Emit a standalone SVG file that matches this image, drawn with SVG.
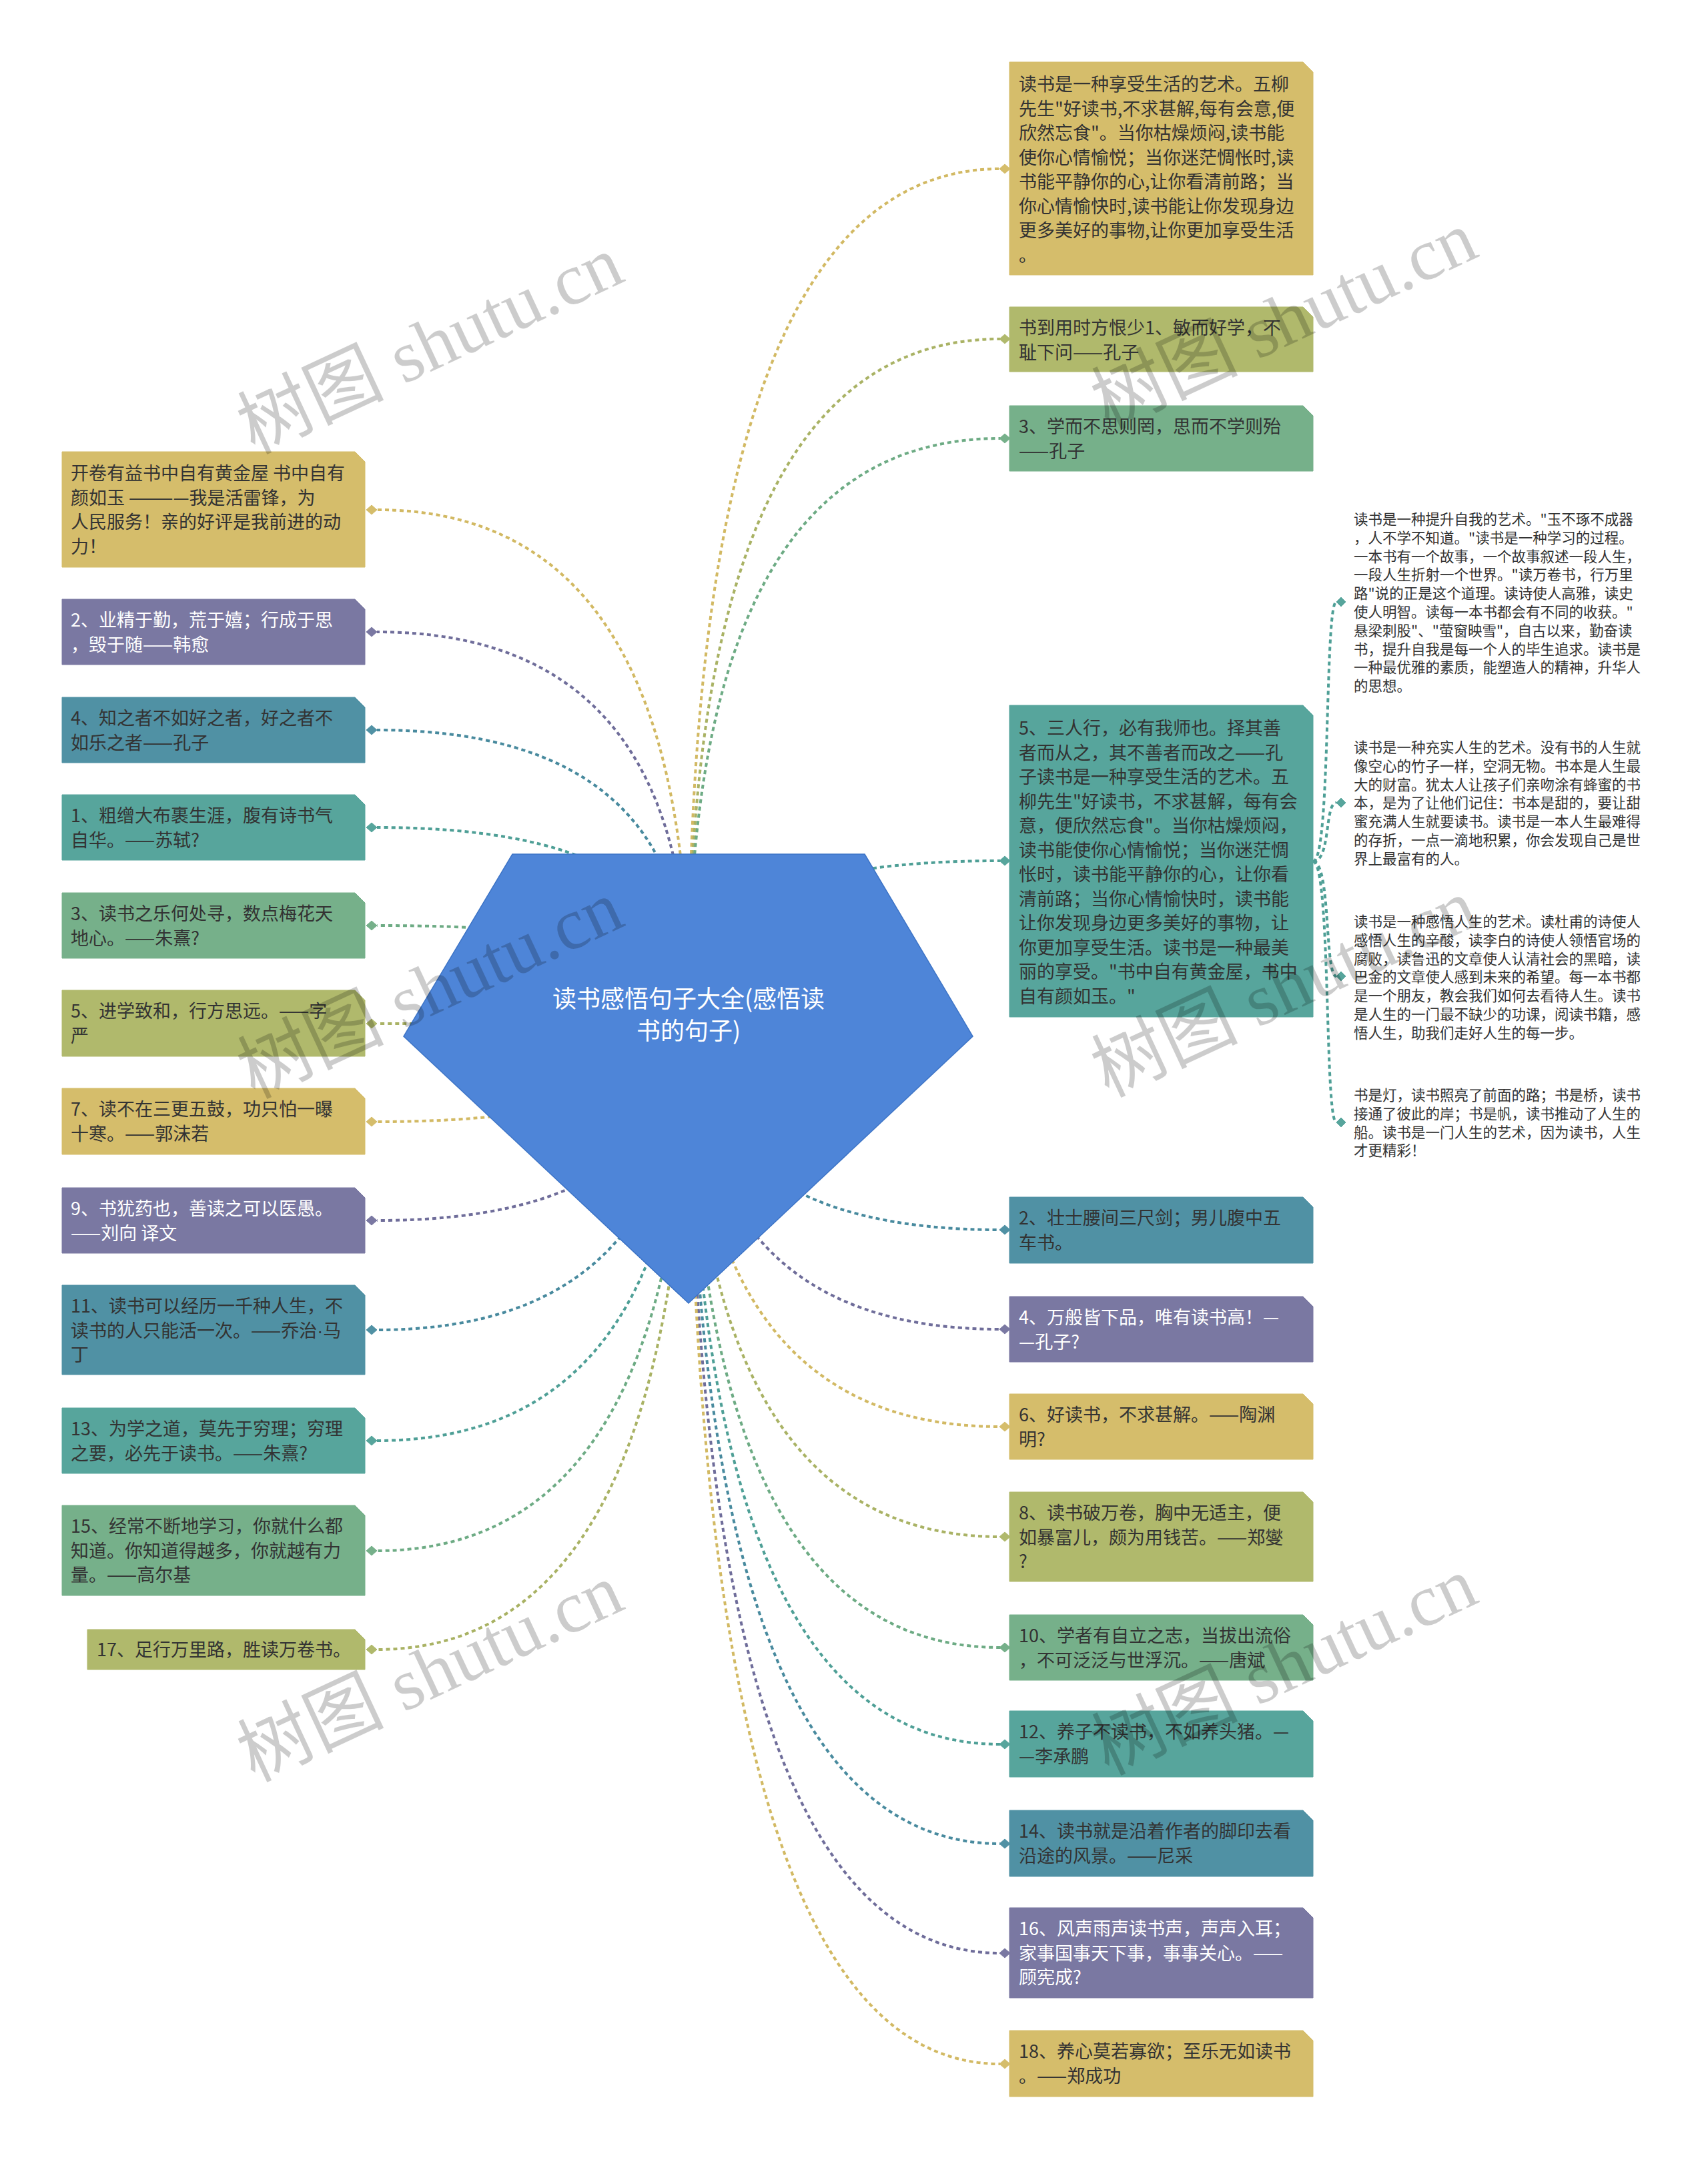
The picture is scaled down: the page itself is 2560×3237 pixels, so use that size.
<svg xmlns="http://www.w3.org/2000/svg" width="2560" height="3237" viewBox="0 0 2560 3237">
<style>
.c{fill:none;stroke-width:4;stroke-dasharray:6 5}
.t{font-family:"Noto Sans CJK SC","Liberation Sans",sans-serif;font-size:27px;fill:#333}
.tw{fill:#fff}
.s{font-family:"Noto Sans CJK SC","Liberation Sans",sans-serif;font-size:21.5px;fill:#333}
.y{fill:#d5bd6b;stroke:#d5bd6b}
.o{fill:#b0b96c;stroke:#b0b96c}
.g{fill:#76b08a;stroke:#76b08a}
.tl{fill:#57a59c;stroke:#57a59c}
.b{fill:#5091a4;stroke:#5091a4}
.p{fill:#7a78a2;stroke:#7a78a2}
.cy{stroke:#d2b963}.co{stroke:#a9b264}.cg{stroke:#6dab84}.ct{stroke:#4e9f96}.cb{stroke:#488a9e}.cp{stroke:#6f6d9a}
.wm{font-family:"Liberation Serif","Noto Sans CJK SC",serif;font-size:110px;fill:#000;fill-opacity:0.2}
</style>
<rect width="2560" height="3237" fill="#fff"/>
<g id="connectors">
<path class="c cy" d="M1032 1500 Q1032 253 1499 253"/>
<path class="c co" d="M1032 1500 Q1032 508 1499 508"/>
<path class="c cg" d="M1032 1500 Q1032 657 1499 657"/>
<path class="c ct" d="M1032 1500 Q1032 1290 1499 1290"/>
<path class="c cb" d="M1032 1500 Q1032 1843 1499 1843"/>
<path class="c cp" d="M1032 1500 Q1032 1992 1499 1992"/>
<path class="c cy" d="M1032 1500 Q1032 2138 1499 2138"/>
<path class="c co" d="M1032 1500 Q1032 2303 1499 2303"/>
<path class="c cg" d="M1032 1500 Q1032 2469 1499 2469"/>
<path class="c ct" d="M1032 1500 Q1032 2614 1499 2614"/>
<path class="c cb" d="M1032 1500 Q1032 2763 1499 2763"/>
<path class="c cp" d="M1032 1500 Q1032 2927 1499 2927"/>
<path class="c cy" d="M1032 1500 Q1032 3093 1499 3093"/>
<path class="c cy" d="M1032 1500 Q1032 764 565 764"/>
<path class="c cp" d="M1032 1500 Q1032 947 565 947"/>
<path class="c cb" d="M1032 1500 Q1032 1094 565 1094"/>
<path class="c ct" d="M1032 1500 Q1032 1240 565 1240"/>
<path class="c cg" d="M1032 1500 Q1032 1387 565 1387"/>
<path class="c co" d="M1032 1500 Q1032 1534 565 1534"/>
<path class="c cy" d="M1032 1500 Q1032 1681 565 1681"/>
<path class="c cp" d="M1032 1500 Q1032 1829 565 1829"/>
<path class="c cb" d="M1032 1500 Q1032 1993 565 1993"/>
<path class="c ct" d="M1032 1500 Q1032 2159 565 2159"/>
<path class="c cg" d="M1032 1500 Q1032 2324 565 2324"/>
<path class="c co" d="M1032 1500 Q1032 2472 565 2472"/>
<path class="c ct" d="M1968 1291 C1995 1291 1985 902 2003 902"/>
<path class="c ct" d="M1968 1291 C1995 1291 1985 1203 2003 1203"/>
<path class="c ct" d="M1968 1291 C1995 1291 1985 1463 2003 1463"/>
<path class="c ct" d="M1968 1291 C1995 1291 1985 1682 2003 1682"/>
</g>
<g id="root">
<polygon points="768,1280 1296,1280 1458,1553 1032,1953 605,1553" fill="#4e85d8" stroke="#3d74c6" stroke-width="1.5"/>
<text font-family="Noto Sans CJK SC, Liberation Sans, sans-serif" font-size="36" fill="#fff" text-anchor="middle"><tspan x="1032" y="1510">读书感悟句子大全(感悟读</tspan><tspan x="1032" y="1558">书的句子)</tspan></text>
</g>
<g id="r1"><polygon class="y" points="1513,93 1953,93 1968,108 1968,412 1513,412"/><polygon class="y" points="1498,253 1506,246 1514,253 1506,260"/>
<text class="t"><tspan x="1527" y="136">读书是一种享受生活的艺术。五柳</tspan><tspan x="1527" dy="36.5">先生"好读书,不求甚解,每有会意,便</tspan><tspan x="1527" dy="36.5">欣然忘食"。当你枯燥烦闷,读书能</tspan><tspan x="1527" dy="36.5">使你心情愉悦；当你迷茫惆怅时,读</tspan><tspan x="1527" dy="36.5">书能平静你的心,让你看清前路；当</tspan><tspan x="1527" dy="36.5">你心情愉快时,读书能让你发现身边</tspan><tspan x="1527" dy="36.5">更多美好的事物,让你更加享受生活</tspan><tspan x="1527" dy="36.5">。</tspan></text></g>
<g id="r2"><polygon class="o" points="1513,460 1953,460 1968,475 1968,557 1513,557"/><polygon class="o" points="1498,508 1506,501 1514,508 1506,515"/>
<text class="t"><tspan x="1527" y="501">书到用时方恨少1、敏而好学，不</tspan><tspan x="1527" dy="36.5">耻下问——孔子</tspan></text></g>
<g id="r3"><polygon class="g" points="1513,608 1953,608 1968,623 1968,706 1513,706"/><polygon class="g" points="1498,657 1506,650 1514,657 1506,664"/>
<text class="t"><tspan x="1527" y="649">3、学而不思则罔，思而不学则殆</tspan><tspan x="1527" dy="36.5">——孔子</tspan></text></g>
<g id="r4"><polygon class="tl" points="1513,1057 1953,1057 1968,1072 1968,1524 1513,1524"/><polygon class="tl" points="1498,1290 1506,1283 1514,1290 1506,1297"/>
<text class="t"><tspan x="1527" y="1101">5、三人行，必有我师也。择其善</tspan><tspan x="1527" dy="36.5">者而从之，其不善者而改之——孔</tspan><tspan x="1527" dy="36.5">子读书是一种享受生活的艺术。五</tspan><tspan x="1527" dy="36.5">柳先生"好读书，不求甚解，每有会</tspan><tspan x="1527" dy="36.5">意，便欣然忘食"。当你枯燥烦闷，</tspan><tspan x="1527" dy="36.5">读书能使你心情愉悦；当你迷茫惆</tspan><tspan x="1527" dy="36.5">怅时，读书能平静你的心，让你看</tspan><tspan x="1527" dy="36.5">清前路；当你心情愉快时，读书能</tspan><tspan x="1527" dy="36.5">让你发现身边更多美好的事物，让</tspan><tspan x="1527" dy="36.5">你更加享受生活。读书是一种最美</tspan><tspan x="1527" dy="36.5">丽的享受。"书中自有黄金屋，书中</tspan><tspan x="1527" dy="36.5">自有颜如玉。"</tspan></text></g>
<g id="r4a"><polygon class="tl" points="2003,902 2010,895 2017,902 2010,909"/>
<text class="s"><tspan x="2029" y="786">读书是一种提升自我的艺术。"玉不琢不成器</tspan><tspan x="2029" dy="27.8">，人不学不知道。"读书是一种学习的过程。</tspan><tspan x="2029" dy="27.8">一本书有一个故事，一个故事叙述一段人生，</tspan><tspan x="2029" dy="27.8">一段人生折射一个世界。"读万卷书，行万里</tspan><tspan x="2029" dy="27.8">路"说的正是这个道理。读诗使人高雅，读史</tspan><tspan x="2029" dy="27.8">使人明智。读每一本书都会有不同的收获。"</tspan><tspan x="2029" dy="27.8">悬梁刺股"、"萤窗映雪"，自古以来，勤奋读</tspan><tspan x="2029" dy="27.8">书，提升自我是每一个人的毕生追求。读书是</tspan><tspan x="2029" dy="27.8">一种最优雅的素质，能塑造人的精神，升华人</tspan><tspan x="2029" dy="27.8">的思想。</tspan></text></g>
<g id="r4b"><polygon class="tl" points="2003,1203 2010,1196 2017,1203 2010,1210"/>
<text class="s"><tspan x="2029" y="1128">读书是一种充实人生的艺术。没有书的人生就</tspan><tspan x="2029" dy="27.8">像空心的竹子一样，空洞无物。书本是人生最</tspan><tspan x="2029" dy="27.8">大的财富。犹太人让孩子们亲吻涂有蜂蜜的书</tspan><tspan x="2029" dy="27.8">本，是为了让他们记住：书本是甜的，要让甜</tspan><tspan x="2029" dy="27.8">蜜充满人生就要读书。读书是一本人生最难得</tspan><tspan x="2029" dy="27.8">的存折，一点一滴地积累，你会发现自己是世</tspan><tspan x="2029" dy="27.8">界上最富有的人。</tspan></text></g>
<g id="r4c"><polygon class="tl" points="2003,1463 2010,1456 2017,1463 2010,1470"/>
<text class="s"><tspan x="2029" y="1389">读书是一种感悟人生的艺术。读杜甫的诗使人</tspan><tspan x="2029" dy="27.8">感悟人生的辛酸，读李白的诗使人领悟官场的</tspan><tspan x="2029" dy="27.8">腐败，读鲁迅的文章使人认清社会的黑暗，读</tspan><tspan x="2029" dy="27.8">巴金的文章使人感到未来的希望。每一本书都</tspan><tspan x="2029" dy="27.8">是一个朋友，教会我们如何去看待人生。读书</tspan><tspan x="2029" dy="27.8">是人生的一门最不缺少的功课，阅读书籍，感</tspan><tspan x="2029" dy="27.8">悟人生，助我们走好人生的每一步。</tspan></text></g>
<g id="r4d"><polygon class="tl" points="2003,1682 2010,1675 2017,1682 2010,1689"/>
<text class="s"><tspan x="2029" y="1649">书是灯，读书照亮了前面的路；书是桥，读书</tspan><tspan x="2029" dy="27.8">接通了彼此的岸；书是帆，读书推动了人生的</tspan><tspan x="2029" dy="27.8">船。读书是一门人生的艺术，因为读书，人生</tspan><tspan x="2029" dy="27.8">才更精彩！</tspan></text></g>
<g id="r5"><polygon class="b" points="1513,1794 1953,1794 1968,1809 1968,1893 1513,1893"/><polygon class="b" points="1498,1843 1506,1836 1514,1843 1506,1850"/>
<text class="t"><tspan x="1527" y="1835">2、壮士腰间三尺剑；男儿腹中五</tspan><tspan x="1527" dy="36.5">车书。</tspan></text></g>
<g id="r6"><polygon class="p" points="1513,1943 1953,1943 1968,1958 1968,2041 1513,2041"/><polygon class="p" points="1498,1992 1506,1985 1514,1992 1506,1999"/>
<text class="t tw"><tspan x="1527" y="1984">4、万般皆下品，唯有读书高！—</tspan><tspan x="1527" dy="36.5">—孔子?</tspan></text></g>
<g id="r7"><polygon class="y" points="1513,2089 1953,2089 1968,2104 1968,2187 1513,2187"/><polygon class="y" points="1498,2138 1506,2131 1514,2138 1506,2145"/>
<text class="t"><tspan x="1527" y="2130">6、好读书，不求甚解。——陶渊</tspan><tspan x="1527" dy="36.5">明?</tspan></text></g>
<g id="r8"><polygon class="o" points="1513,2236 1953,2236 1968,2251 1968,2370 1513,2370"/><polygon class="o" points="1498,2303 1506,2296 1514,2303 1506,2310"/>
<text class="t"><tspan x="1527" y="2277">8、读书破万卷，胸中无适主，便</tspan><tspan x="1527" dy="36.5">如暴富儿，颇为用钱苦。——郑燮</tspan><tspan x="1527" dy="36.5">?</tspan></text></g>
<g id="r9"><polygon class="g" points="1513,2420 1953,2420 1968,2435 1968,2518 1513,2518"/><polygon class="g" points="1498,2469 1506,2462 1514,2469 1506,2476"/>
<text class="t"><tspan x="1527" y="2461">10、学者有自立之志，当拔出流俗</tspan><tspan x="1527" dy="36.5">，不可泛泛与世浮沉。——唐斌</tspan></text></g>
<g id="r10"><polygon class="tl" points="1513,2564 1953,2564 1968,2579 1968,2663 1513,2663"/><polygon class="tl" points="1498,2614 1506,2607 1514,2614 1506,2621"/>
<text class="t"><tspan x="1527" y="2605">12、养子不读书，不如养头猪。—</tspan><tspan x="1527" dy="36.5">—李承鹏</tspan></text></g>
<g id="r11"><polygon class="b" points="1513,2713 1953,2713 1968,2728 1968,2812 1513,2812"/><polygon class="b" points="1498,2763 1506,2756 1514,2763 1506,2770"/>
<text class="t"><tspan x="1527" y="2754">14、读书就是沿着作者的脚印去看</tspan><tspan x="1527" dy="36.5">沿途的风景。——尼采</tspan></text></g>
<g id="r12"><polygon class="p" points="1513,2859 1953,2859 1968,2874 1968,2994 1513,2994"/><polygon class="p" points="1498,2927 1506,2920 1514,2927 1506,2934"/>
<text class="t tw"><tspan x="1527" y="2900">16、风声雨声读书声，声声入耳；</tspan><tspan x="1527" dy="36.5">家事国事天下事，事事关心。——</tspan><tspan x="1527" dy="36.5">顾宪成?</tspan></text></g>
<g id="r13"><polygon class="y" points="1513,3043 1953,3043 1968,3058 1968,3142 1513,3142"/><polygon class="y" points="1498,3093 1506,3086 1514,3093 1506,3100"/>
<text class="t"><tspan x="1527" y="3084">18、养心莫若寡欲；至乐无如读书</tspan><tspan x="1527" dy="36.5">。——郑成功</tspan></text></g>
<g id="l1"><polygon class="y" points="93,677 532,677 547,692 547,850 93,850"/><polygon class="y" points="549,764 557,757 565,764 557,771"/>
<text class="t"><tspan x="106" y="719">开卷有益书中自有黄金屋 书中自有</tspan><tspan x="106" dy="36.5">颜如玉 ————我是活雷锋，为</tspan><tspan x="106" dy="36.5">人民服务！亲的好评是我前进的动</tspan><tspan x="106" dy="36.5">力！</tspan></text></g>
<g id="l2"><polygon class="p" points="93,898 532,898 547,913 547,996 93,996"/><polygon class="p" points="549,947 557,940 565,947 557,954"/>
<text class="t tw"><tspan x="106" y="939">2、业精于勤，荒于嬉；行成于思</tspan><tspan x="106" dy="36.5">，毁于随——韩愈</tspan></text></g>
<g id="l3"><polygon class="b" points="93,1045 532,1045 547,1060 547,1143 93,1143"/><polygon class="b" points="549,1094 557,1087 565,1094 557,1101"/>
<text class="t"><tspan x="106" y="1086">4、知之者不如好之者，好之者不</tspan><tspan x="106" dy="36.5">如乐之者——孔子</tspan></text></g>
<g id="l4"><polygon class="tl" points="93,1191 532,1191 547,1206 547,1289 93,1289"/><polygon class="tl" points="549,1240 557,1233 565,1240 557,1247"/>
<text class="t"><tspan x="106" y="1232">1、粗缯大布裹生涯，腹有诗书气</tspan><tspan x="106" dy="36.5">自华。——苏轼?</tspan></text></g>
<g id="l5"><polygon class="g" points="93,1338 532,1338 547,1353 547,1436 93,1436"/><polygon class="g" points="549,1387 557,1380 565,1387 557,1394"/>
<text class="t"><tspan x="106" y="1379">3、读书之乐何处寻，数点梅花天</tspan><tspan x="106" dy="36.5">地心。——朱熹?</tspan></text></g>
<g id="l6"><polygon class="o" points="93,1484 532,1484 547,1499 547,1583 93,1583"/><polygon class="o" points="549,1534 557,1527 565,1534 557,1541"/>
<text class="t"><tspan x="106" y="1525">5、进学致和，行方思远。——字</tspan><tspan x="106" dy="36.5">严</tspan></text></g>
<g id="l7"><polygon class="y" points="93,1631 532,1631 547,1646 547,1730 93,1730"/><polygon class="y" points="549,1681 557,1674 565,1681 557,1688"/>
<text class="t"><tspan x="106" y="1672">7、读不在三更五鼓，功只怕一曝</tspan><tspan x="106" dy="36.5">十寒。——郭沫若</tspan></text></g>
<g id="l8"><polygon class="p" points="93,1780 532,1780 547,1795 547,1878 93,1878"/><polygon class="p" points="549,1829 557,1822 565,1829 557,1836"/>
<text class="t tw"><tspan x="106" y="1821">9、书犹药也，善读之可以医愚。</tspan><tspan x="106" dy="36.5">——刘向 译文</tspan></text></g>
<g id="l9"><polygon class="b" points="93,1926 532,1926 547,1941 547,2060 93,2060"/><polygon class="b" points="549,1993 557,1986 565,1993 557,2000"/>
<text class="t"><tspan x="106" y="1967">11、读书可以经历一千种人生，不</tspan><tspan x="106" dy="36.5">读书的人只能活一次。——乔治<tspan font-family="Liberation Sans, sans-serif">·</tspan>马</tspan><tspan x="106" dy="36.5">丁</tspan></text></g>
<g id="l10"><polygon class="tl" points="93,2110 532,2110 547,2125 547,2208 93,2208"/><polygon class="tl" points="549,2159 557,2152 565,2159 557,2166"/>
<text class="t"><tspan x="106" y="2151">13、为学之道，莫先于穷理；穷理</tspan><tspan x="106" dy="36.5">之要，必先于读书。——朱熹?</tspan></text></g>
<g id="l11"><polygon class="g" points="93,2256 532,2256 547,2271 547,2391 93,2391"/><polygon class="g" points="549,2324 557,2317 565,2324 557,2331"/>
<text class="t"><tspan x="106" y="2297">15、经常不断地学习，你就什么都</tspan><tspan x="106" dy="36.5">知道。你知道得越多，你就越有力</tspan><tspan x="106" dy="36.5">量。——高尔基</tspan></text></g>
<g id="l12"><polygon class="o" points="131,2442 532,2442 547,2457 547,2502 131,2502"/><polygon class="o" points="549,2472 557,2465 565,2472 557,2479"/>
<text class="t"><tspan x="145" y="2482">17、足行万里路，胜读万卷书。</tspan></text></g>
<g id="watermark">
<text class="wm" text-anchor="middle" transform="translate(644,516) rotate(-25)" y="38">树图 shutu.cn</text>
<text class="wm" text-anchor="middle" transform="translate(1924,479) rotate(-25)" y="38">树图 shutu.cn</text>
<text class="wm" text-anchor="middle" transform="translate(644,1482) rotate(-25)" y="38">树图 shutu.cn</text>
<text class="wm" text-anchor="middle" transform="translate(1924,1480) rotate(-25)" y="38">树图 shutu.cn</text>
<text class="wm" text-anchor="middle" transform="translate(644,2506) rotate(-25)" y="38">树图 shutu.cn</text>
<text class="wm" text-anchor="middle" transform="translate(1924,2496) rotate(-25)" y="38">树图 shutu.cn</text>
</g>
</svg>
